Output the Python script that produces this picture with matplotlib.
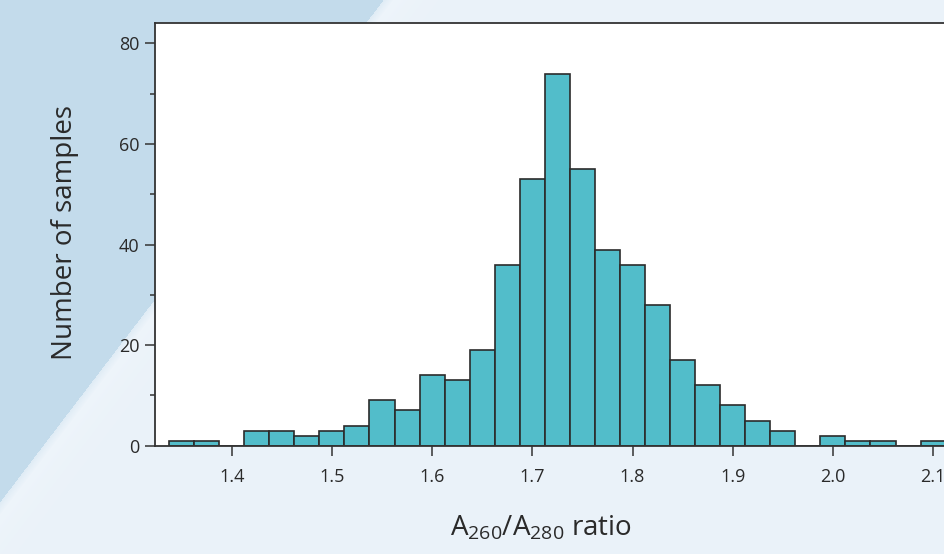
import matplotlib.pyplot as plt
import numpy as np

# histogram of A260/A280 ratios, bin width 0.025
bin_centers = [1.350, 1.375, 1.400, 1.425, 1.450, 1.475, 1.500, 1.525, 1.550,
               1.575, 1.600, 1.625, 1.650, 1.675, 1.700, 1.725, 1.750, 1.775,
               1.800, 1.825, 1.850, 1.875, 1.900, 1.925, 1.950, 1.975, 2.000,
               2.025, 2.050, 2.075, 2.100]
sample_counts = [1, 1, 0, 3, 3, 2, 3, 4, 9,
                 7, 14, 13, 19, 36, 53, 74, 55, 39,
                 36, 28, 17, 12, 8, 5, 3, 0, 2,
                 1, 1, 0, 1]
bin_width = 0.025

x_ticks = [1.4, 1.5, 1.6, 1.7, 1.8, 1.9, 2.0, 2.1]
x_tick_labels = ["1.4", "1.5", "1.6", "1.7", "1.8", "1.9", "2.0", "2.1"]
y_ticks = [0, 20, 40, 60, 80]
y_minor_ticks = [10, 30, 50, 70]

plt.rcParams["font.family"] = ["Open Sans", "DejaVu Sans"]

W, H = 944, 554
fig = plt.figure(figsize=(W / 100, H / 100), dpi=100)

# background: blue wedge top-left, pale blue elsewhere
bg = fig.add_axes([0, 0, 1, 1], zorder=-10)
yy, xx = np.mgrid[0:H, 0:W]
dist = (xx / 388 + yy / 508 - 1) * 308
blue = np.array([195, 219, 235]) / 255
pale = np.array([234, 242, 249]) / 255
strip = np.array([242, 247, 252]) / 255
t = np.clip((dist + 4) / 8, 0, 1)[..., None]
img = blue * (1 - t) + pale * t
glow = np.exp(-np.clip(dist, 0, None) / 25)[..., None] * (dist > -4)[..., None]
img = img * (1 - glow * 0.6) + strip * glow * 0.6
bg.imshow(img, aspect="auto", extent=[0, W, H, 0])
bg.set_axis_off()

# main axes, right side runs off the figure edge
left_px, right_px, top_px, bottom_px = 154.5, 1000, 22.7, 445.7
ax = fig.add_axes([left_px / W, (H - bottom_px) / H,
                   (right_px - left_px) / W, (bottom_px - top_px) / H])
ax.set_facecolor("white")

ax.bar(bin_centers, sample_counts, width=bin_width, color="#52bdca",
       edgecolor="#2b2b2b", linewidth=1.2, zorder=2)

ax.set_xlim(1.4 - (231.7 - left_px) / 1002, 1.4 + (right_px - 231.7) / 1002)
ax.set_ylim(0, 84.1)

ax.set_xticks(x_ticks)
ax.set_xticklabels(x_tick_labels)
ax.set_yticks(y_ticks)
ax.set_yticks(y_minor_ticks, minor=True)

for side in ["top", "left", "bottom"]:
    ax.spines[side].set_color("#333333")
    ax.spines[side].set_linewidth(1.3)
ax.spines["right"].set_visible(False)

ax.tick_params(axis="both", which="major", direction="out", length=7,
               width=1.1, color="#333333", labelsize=13, labelcolor="#2a2a2a")
ax.tick_params(axis="y", which="major", pad=4)
ax.tick_params(axis="x", which="major", pad=9)
ax.tick_params(axis="y", which="minor", direction="out", length=3.5,
               width=1.1, color="#333333")

fig.text(65 / W, 1 - 233 / H, "Number of samples", rotation=90,
         ha="center", va="center", fontsize=20, color="#2a2a2a")
fig.text(541 / W, 1 - 528 / H, r"$\mathregular{A_{260}/A_{280}}$ ratio",
         ha="center", va="center", fontsize=20, color="#2a2a2a")

fig.savefig("out.png", dpi=100)
